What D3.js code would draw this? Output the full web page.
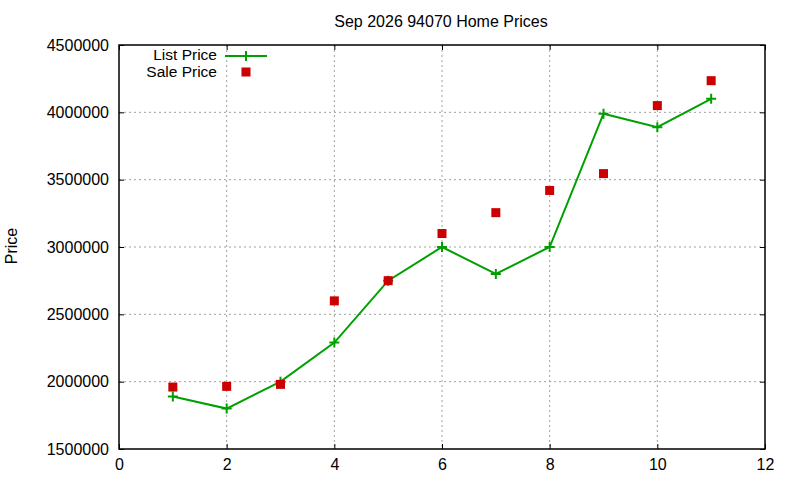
<!DOCTYPE html>
<html>
<head>
<meta charset="utf-8">
<script src="https://cdn.jsdelivr.net/npm/d3@7"></script>
<style>
  body { margin: 0; background: #fff; }
  text { font-family: "Liberation Sans", Arial, sans-serif; fill: #000; }
</style>
</head>
<body>
<div id="container"></div>
<script>
// chart data
const months = [1, 2, 3, 4, 5, 6, 7, 8, 9, 10, 11];
const listPrice = [1890000, 1800000, 2000000, 2290000, 2750000, 3000000, 2800000, 3000000, 3990000, 3890000, 4100000];
const salePrice = [1960000, 1965000, 1980000, 2600000, 2750000, 3100000, 3255000, 3420000, 3545000, 4050000, 4235000];
const xTicks = [0, 2, 4, 6, 8, 10, 12];
const yTicks = [1500000, 2000000, 2500000, 3000000, 3500000, 4000000, 4500000];
const title = 'Sep 2026 94070 Home Prices';

window.addEventListener('load', () => {
    const W = 800, H = 480;
    const m = { left: 119, right: 765, top: 45, bottom: 449 };
    const green = '#00a000', red = '#cc0000';

    const svg = d3.select('#container')
        .append('svg')
        .attr('width', W)
        .attr('height', H);

    const x = d3.scaleLinear().domain([0, 12]).range([m.left, m.right]);
    const y = d3.scaleLinear().domain([1500000, 4500000]).range([m.bottom, m.top]);

    // grid
    svg.append('g')
        .selectAll('line.gx')
        .data(xTicks.slice(1, -1))
        .enter()
        .append('line')
        .attr('x1', d => x(d)).attr('x2', d => x(d))
        .attr('y1', m.top).attr('y2', m.bottom)
        .attr('stroke', '#a0a0a0').attr('stroke-dasharray', '2,3');
    svg.append('g')
        .selectAll('line.gy')
        .data(yTicks.slice(1, -1))
        .enter()
        .append('line')
        .attr('x1', m.left).attr('x2', m.right)
        .attr('y1', d => y(d)).attr('y2', d => y(d))
        .attr('stroke', '#a0a0a0').attr('stroke-dasharray', '2,3');

    // axes (ticks inward, mirrored)
    const fmt = d3.format('d');
    const axisStyle = g => {
        g.select('.domain').remove();
        g.selectAll('.tick line').attr('stroke', '#000');
        g.selectAll('.tick text').attr('font-size', 16).attr('font-family', '"Liberation Sans", Arial, sans-serif');
    };
    svg.append('g')
        .attr('transform', `translate(0,${m.bottom})`)
        .call(d3.axisBottom(x).tickValues(xTicks).tickFormat(fmt).tickSize(-5).tickPadding(10))
        .call(axisStyle);
    svg.append('g')
        .attr('transform', `translate(${m.left},0)`)
        .call(d3.axisLeft(y).tickValues(yTicks).tickFormat(fmt).tickSize(-5).tickPadding(10))
        .call(axisStyle);
    svg.append('g')
        .attr('transform', `translate(0,${m.top})`)
        .call(d3.axisTop(x).tickValues(xTicks).tickFormat('').tickSize(-5))
        .call(axisStyle);
    svg.append('g')
        .attr('transform', `translate(${m.right},0)`)
        .call(d3.axisRight(y).tickValues(yTicks).tickFormat('').tickSize(-5))
        .call(axisStyle);

    svg.append('rect')
        .attr('x', m.left).attr('y', m.top)
        .attr('width', m.right - m.left).attr('height', m.bottom - m.top)
        .attr('fill', 'none').attr('stroke', '#000').attr('stroke-width', 1.5);

    // list price line
    const listData = months.map((mo, i) => [mo, listPrice[i]]);
    svg.append('path')
        .datum(listData)
        .attr('fill', 'none')
        .attr('stroke', green)
        .attr('stroke-width', 2)
        .attr('d', d3.line().x(d => x(d[0])).y(d => y(d[1])));

    const plus = (g, cx, cy) => {
        g.append('path')
            .attr('d', `M${cx - 5},${cy}H${cx + 5}M${cx},${cy - 5}V${cy + 5}`)
            .attr('stroke', green).attr('stroke-width', 2);
    };
    const pts = svg.append('g');
    listData.forEach(d => plus(pts, x(d[0]), y(d[1])));

    // sale price squares
    svg.append('g')
        .selectAll('rect')
        .data(months.map((mo, i) => [mo, salePrice[i]]))
        .enter()
        .append('rect')
        .attr('x', d => x(d[0]) - 4.5)
        .attr('y', d => y(d[1]) - 4.5)
        .attr('width', 9).attr('height', 9)
        .attr('fill', red);

    // title and label
    svg.append('text')
        .attr('x', (m.left + m.right) / 2 - 1)
        .attr('y', 27)
        .attr('text-anchor', 'middle')
        .attr('font-size', 16)
        .text(title);
    svg.append('text')
        .attr('transform', 'translate(17,246) rotate(-90)')
        .attr('text-anchor', 'middle')
        .attr('font-size', 16)
        .text('Price');

    // legend
    const lg = svg.append('g');
    lg.append('text').attr('x', 217).attr('y', 60).attr('text-anchor', 'end').attr('font-size', 15.5).text('List Price');
    lg.append('line').attr('x1', 225).attr('x2', 267).attr('y1', 56).attr('y2', 56)
        .attr('stroke', green).attr('stroke-width', 2);
    plus(lg, 246, 56);
    lg.append('text').attr('x', 217).attr('y', 77).attr('text-anchor', 'end').attr('font-size', 15.5).text('Sale Price');
    lg.append('rect').attr('x', 241.5).attr('y', 67.5).attr('width', 9).attr('height', 9).attr('fill', red);
});
</script>
</body>
</html>
